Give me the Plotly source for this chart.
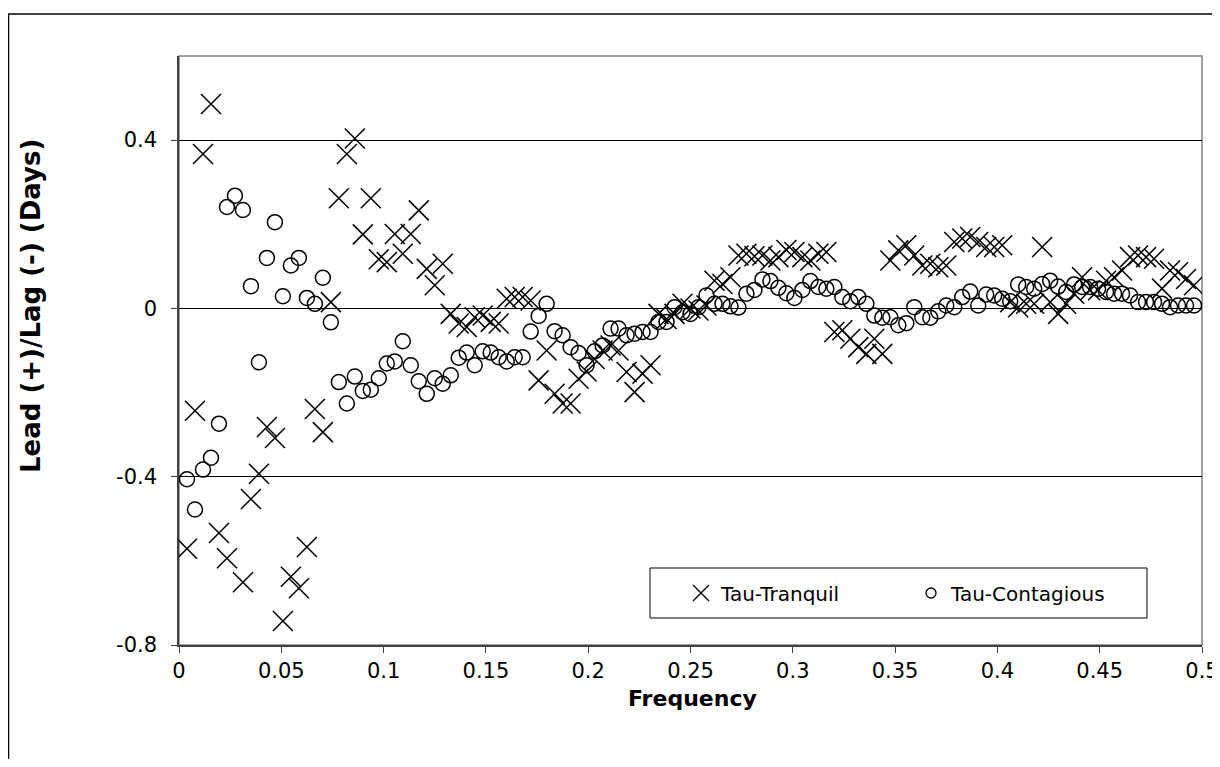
import plotly.graph_objects as go

# Frequencies k/256, k = 1..127
k_index = list(range(1, 128))
frequency = [k / 256 for k in k_index]

tau_tranquil = [
    -0.571, -0.243, 0.367, 0.486, -0.534, -0.594, None, -0.651, -0.453, -0.393,
    -0.282, -0.308, -0.743, -0.638, -0.665, -0.567, -0.239, -0.294, 0.015, 0.262,
    0.367, 0.404, 0.176, 0.262, 0.117, 0.110, 0.177, 0.130, 0.177, 0.233,
    0.094, 0.055, 0.106, -0.013, -0.036, -0.044, -0.021, -0.017, -0.032, -0.036,
    0.023, 0.027, 0.027, 0.019, -0.171, -0.100, -0.203, -0.226, -0.226, -0.167,
    -0.150, -0.120, -0.100, -0.088, -0.100, -0.151, -0.199, -0.155, -0.135, -0.013,
    -0.025, -0.013, 0.011, 0.000, -0.005, 0.007, 0.066, 0.058, 0.074, 0.126,
    0.130, 0.124, 0.126, 0.114, 0.122, 0.139, 0.134, 0.122, 0.114, 0.130,
    0.134, -0.056, -0.052, -0.072, -0.092, -0.108, -0.072, -0.108, 0.114, 0.138,
    0.150, 0.126, 0.102, 0.106, 0.098, 0.102, 0.158, 0.166, 0.170, 0.158,
    0.146, 0.146, 0.150, 0.015, 0.003, 0.011, 0.011, 0.146, 0.015, -0.013,
    0.011, 0.035, 0.074, 0.043, 0.043, 0.066, 0.074, 0.090, 0.122, 0.126,
    0.122, 0.118, 0.047, 0.090, 0.086, 0.070, 0.055,
]

tau_contagious = [
    -0.406, -0.478, -0.383, -0.355, -0.274, 0.241, 0.268, 0.234, 0.053, -0.128,
    0.120, 0.205, 0.029, 0.102, 0.120, 0.025, 0.011, 0.073, -0.033, -0.175,
    -0.226, -0.162, -0.196, -0.193, -0.166, -0.131, -0.126, -0.078, -0.135, -0.173,
    -0.203, -0.166, -0.179, -0.159, -0.117, -0.105, -0.135, -0.102, -0.105, -0.116,
    -0.126, -0.116, -0.116, -0.055, -0.018, 0.011, -0.054, -0.064, -0.092, -0.106,
    -0.135, -0.102, -0.088, -0.048, -0.048, -0.064, -0.060, -0.056, -0.056, -0.032,
    -0.032, 0.003, -0.009, -0.013, 0.003, 0.031, 0.011, 0.011, 0.005, 0.002,
    0.035, 0.044, 0.069, 0.065, 0.049, 0.036, 0.025, 0.044, 0.065, 0.051,
    0.047, 0.051, 0.027, 0.017, 0.027, 0.011, -0.017, -0.022, -0.021, -0.040,
    -0.035, 0.003, -0.021, -0.022, -0.007, 0.007, 0.003, 0.027, 0.040, 0.007,
    0.033, 0.031, 0.023, 0.017, 0.057, 0.051, 0.047, 0.058, 0.066, 0.052,
    0.039, 0.057, 0.051, 0.051, 0.047, 0.039, 0.035, 0.035, 0.031, 0.015,
    0.015, 0.015, 0.011, 0.003, 0.007, 0.007, 0.007,
]

x_ticks = [0, 0.05, 0.1, 0.15, 0.2, 0.25, 0.3, 0.35, 0.4, 0.45, 0.5]
x_tick_text = ["0", "0.05", "0.1", "0.15", "0.2", "0.25", "0.3", "0.35", "0.4", "0.45", "0.5"]
y_ticks = [-0.8, -0.4, 0, 0.4]
y_tick_text = ["-0.8", "-0.4", "0", "0.4"]

FONT = "DejaVu Sans, Liberation Sans, Arial, sans-serif"

# Figure geometry (page body adds an 8px margin)
W, H = 1212, 751
ML, MR, MT, MB = 171, 18, 48, 114
PW, PH = W - ML - MR, H - MT - MB


def px(xpix):
    """page x pixel -> paper x"""
    return (xpix - 8 - ML) / PW


def py(ypix):
    """page y pixel -> paper y"""
    return (H - MB - (ypix - 8)) / PH


fig = go.Figure()
fig.add_trace(go.Scatter(
    x=frequency, y=tau_tranquil, mode="markers", name="Tau-Tranquil",
    showlegend=False,
    marker=dict(symbol="x-thin-open", size=20, color="black",
                line=dict(color="black", width=1.5)),
))
fig.add_trace(go.Scatter(
    x=frequency, y=tau_contagious, mode="markers", name="Tau-Contagious",
    showlegend=False,
    marker=dict(symbol="circle-open", size=15, color="black",
                line=dict(color="black", width=1.5)),
))
# legend entries (same series, legend-sized symbols)
fig.add_trace(go.Scatter(
    x=[None], y=[None], mode="markers", name="Tau-Tranquil",
    marker=dict(symbol="x-thin-open", size=16, color="black",
                line=dict(color="black", width=1.3)),
))
fig.add_trace(go.Scatter(
    x=[None], y=[None], mode="markers", name="Tau-Contagious",
    marker=dict(symbol="circle-open", size=10, color="black",
                line=dict(color="black", width=1.3)),
))

fig.update_layout(
    width=W, height=H,
    margin=dict(l=ML, r=MR, t=MT, b=MB, autoexpand=False),
    paper_bgcolor="white", plot_bgcolor="white",
    font=dict(family=FONT, size=20, color="black"),
    showlegend=True,
    legend=dict(
        orientation="h", x=px(681), y=py(593), xanchor="left", yanchor="middle",
        borderwidth=0, bgcolor="rgba(0,0,0,0)",
        font=dict(family=FONT, size=20, color="black"),
        entrywidth=185, entrywidthmode="pixels",
        itemsizing="trace", itemwidth=30,
    ),
    xaxis=dict(
        range=[0, 0.5], tickvals=x_ticks, ticktext=x_tick_text,
        showgrid=False, zeroline=False, automargin=False,
        showline=True, linecolor="#404040", linewidth=1.5, mirror=False,
        ticks="outside", ticklen=6, tickcolor="#404040",
        ticklabeloverflow="allow",
        tickfont=dict(family=FONT, size=21, color="black"),
    ),
    yaxis=dict(
        range=[-0.8, 0.6], tickvals=y_ticks, ticktext=y_tick_text,
        showgrid=True, gridcolor="black", gridwidth=1, zeroline=False,
        automargin=False,
        showline=True, linecolor="#404040", linewidth=1.5,
        ticks="outside", ticklen=6, tickcolor="#404040",
        ticklabelstandoff=10,
        tickfont=dict(family=FONT, size=21, color="black"),
    ),
    annotations=[
        dict(text="<b>Frequency</b>", xref="paper", yref="paper", x=px(692), y=py(698),
             showarrow=False, font=dict(family=FONT, size=22, color="black"),
             xanchor="center", yanchor="middle"),
        dict(text="<b>Lead (+)/Lag (-) (Days)</b>", xref="paper", yref="paper",
             x=px(31), y=py(306), textangle=-90, showarrow=False,
             font=dict(family=FONT, size=26, color="black"),
             xanchor="center", yanchor="middle"),
    ],
    shapes=[
        # plot area border (grey)
        dict(type="rect", xref="paper", yref="paper", x0=0, y0=0, x1=1, y1=1,
             line=dict(color="#808080", width=1.5), layer="below"),
        # legend box
        dict(type="rect", xref="paper", yref="paper", x0=px(650), y0=py(618),
             x1=px(1147), y1=py(568), line=dict(color="black", width=1),
             fillcolor="white", layer="below"),
        # outer chart border
        dict(type="rect", xref="paper", yref="paper", x0=px(8.5), y0=py(800),
             x1=px(1260), y1=py(14), line=dict(color="black", width=1.5)),
    ],
)

fig.write_html("out.html")
